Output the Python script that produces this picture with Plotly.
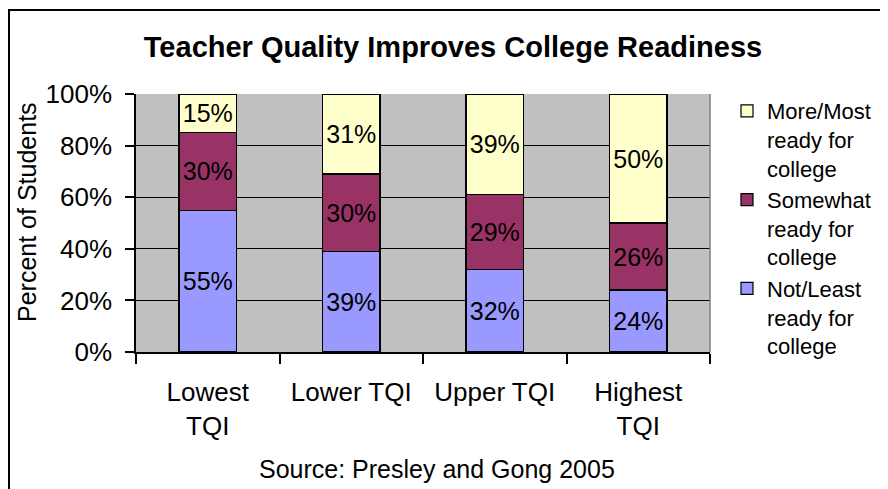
import plotly.graph_objects as go

categories = ["Lowest<br>TQI", "Lower TQI", "Upper TQI", "Highest<br>TQI"]
not_least = [55, 39, 32, 24]
somewhat = [30, 30, 29, 26]
more_most = [15, 31, 39, 50]
series_names = ["Not/Least<br>ready for<br>college", "Somewhat<br>ready for<br>college", "More/Most<br>ready for<br>college"]
series_colors = ["#9999FF", "#993366", "#FFFFCC"]
y_ticks = [0, 20, 40, 60, 80, 100]
y_tick_labels = ["0%", "20%", "40%", "60%", "80%", "100%"]

FONT = "Liberation Sans, Arial, sans-serif"
OFF = 8  # page body margin
W, H = 880, 481
L, R, T, B = 128, 178, 86, 137
PW, PH = W - L - R, H - T - B


def px_x(p):  # page pixel -> paper coordinate
    return (p - OFF - L) / PW


def px_y(p):
    return (H - B - (p - OFF)) / PH


fig = go.Figure()
for name, vals, col in zip(series_names, [not_least, somewhat, more_most], series_colors):
    fig.add_trace(go.Bar(
        x=categories, y=vals, name=name,
        marker=dict(color=col, line=dict(color="black", width=1.2)),
        text=[f"{v}%" for v in vals], texttemplate="%{text}",
        textposition="inside", insidetextanchor="middle", textangle=0,
        textfont=dict(family=FONT, size=25, color="black"),
        constraintext="none",
    ))

fig.update_layout(
    width=W, height=H,
    margin=dict(l=L, r=R, t=T, b=B),
    barmode="stack", bargap=0.6,
    paper_bgcolor="white", plot_bgcolor="#C0C0C0",
    uniformtext=dict(minsize=25, mode="show"),
    font=dict(family=FONT, size=26, color="black"),
    title=dict(text="<b>Teacher Quality Improves College Readiness</b>",
               font=dict(family=FONT, size=29, color="black"),
               x=(453 - OFF) / W, xref="container", xanchor="center",
               y=1 - (47 - OFF) / H, yref="container", yanchor="middle"),
    legend=dict(traceorder="reversed", x=px_x(727), xanchor="left",
                y=px_y(90), yanchor="top", valign="top", maxheight=400,
                font=dict(family=FONT, size=22, color="black"),
                bgcolor="rgba(0,0,0,0)", tracegroupgap=0),
    showlegend=True,
)
fig.update_xaxes(
    showline=True, linecolor="black", linewidth=1.5,
    ticks="outside", tickson="boundaries", ticklen=10, tickcolor="black", tickwidth=1.5,
    tickfont=dict(family=FONT, size=26, color="black"), ticklabelstandoff=16,
    showgrid=False,
)
fig.update_yaxes(
    range=[0, 100], tickvals=y_ticks, ticktext=y_tick_labels,
    showline=True, linecolor="black", linewidth=1.5,
    ticks="outside", ticklen=9, tickcolor="black", tickwidth=1.5,
    tickfont=dict(family=FONT, size=26, color="black"), ticklabelstandoff=8,
    showgrid=True, gridcolor="black", gridwidth=1.2,
    zeroline=False,
)
# right plot border (gray) and outer chart frame
fig.add_shape(type="line", xref="x domain", yref="y domain", x0=1, x1=1, y0=0, y1=1,
              line=dict(color="#808080", width=1.5))
fig.add_shape(type="rect", xref="paper", yref="paper",
              x0=px_x(9), x1=px_x(900), y0=px_y(500), y1=px_y(10),
              line=dict(color="black", width=2))
fig.add_annotation(text="Percent of Students", textangle=-90, xref="paper", yref="paper",
                   x=px_x(27), y=px_y(212), xanchor="center", yanchor="middle",
                   showarrow=False, font=dict(family=FONT, size=25, color="black"))
fig.add_annotation(text="Source: Presley and Gong 2005", xref="paper", yref="paper",
                   x=px_x(437), y=px_y(469), xanchor="center", yanchor="middle",
                   showarrow=False, font=dict(family=FONT, size=25, color="black"))

fig.write_html("out.html")
